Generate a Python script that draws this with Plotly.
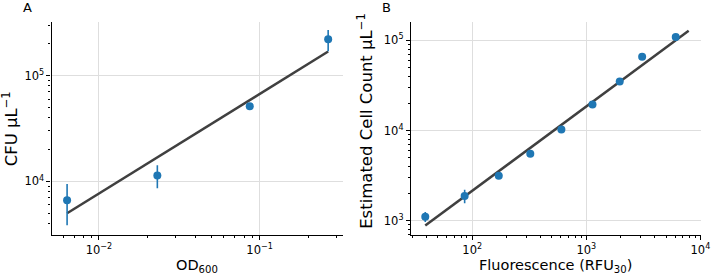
import plotly.graph_objects as go

# Panel A data
od600 = [0.00634, 0.0231, 0.0868, 0.267]
cfu = [6650, 11400, 51400, 220000]
cfu_err = [2800, 2800, 2500, 50000]
fit_od = [0.00634, 0.267]
fit_cfu = [5010, 169000]

# Panel B data
rfu = [38.8, 85.9, 171, 323, 605, 1133, 1963, 3086, 6080]
count = [1108, 1880, 3150, 5530, 10260, 19400, 34900, 65800, 108800]
count_err = [140, 320, 150, 250, 400, 700, 1200, 2000, 3000]
fit_rfu = [38.8, 7890]
fit_count = [881, 127800]

W, H = 720, 277
BLUE = "#1f77b4"
LINE = "#404040"
FONT = "DejaVu Sans"

def px(x):
    return x / W

def py(y):
    return 1 - y / H

def sup_label(e):
    s = str(e).replace("-", "\u2212")
    return f"10<sup>{s}</sup>"

def minor_vals(lo, hi):
    out = []
    for d in range(lo, hi + 1):
        for m in range(2, 10):
            out.append(m * 10 ** d)
    return out

fig = go.Figure()

fig.add_trace(go.Scatter(x=fit_od, y=fit_cfu, mode="lines",
                         line=dict(color=LINE, width=2.5), xaxis="x", yaxis="y", showlegend=False))
fig.add_trace(go.Scatter(x=od600, y=cfu, mode="markers",
                         marker=dict(color=BLUE, size=8),
                         error_y=dict(type="data", array=cfu_err, color=BLUE, thickness=1.6, width=0),
                         xaxis="x", yaxis="y", showlegend=False))

fig.add_trace(go.Scatter(x=fit_rfu, y=fit_count, mode="lines",
                         line=dict(color=LINE, width=2.5), xaxis="x2", yaxis="y2", showlegend=False))
fig.add_trace(go.Scatter(x=rfu, y=count, mode="markers",
                         marker=dict(color=BLUE, size=8),
                         error_y=dict(type="data", array=count_err, color=BLUE, thickness=1.6, width=0),
                         xaxis="x2", yaxis="y2", showlegend=False))

def axis(domain, rng, majors, minor_lo, minor_hi, anchor):
    return dict(
        type="log", domain=domain, range=rng, anchor=anchor,
        tickmode="array", tickvals=[10 ** e for e in majors],
        ticktext=[sup_label(e) for e in majors],
        ticks="outside", ticklen=4, tickwidth=1, tickcolor="black",
        ticklabeloverflow="allow",
        showline=True, linecolor="black", linewidth=1.2,
        showgrid=True, gridcolor="#dedede", gridwidth=1,
        zeroline=False, mirror=False,
        tickfont=dict(family=FONT, size=11.5, color="black"),
        minor=dict(tickmode="array", tickvals=minor_vals(minor_lo, minor_hi),
                   ticks="outside", ticklen=2, tickwidth=0.8, tickcolor="black", showgrid=False),
    )

fig.update_layout(
    width=W, height=H,
    margin=dict(l=0, r=0, t=0, b=0),
    paper_bgcolor="white", plot_bgcolor="white",
    font=dict(family=FONT, color="black"),
    xaxis=axis([px(52.3), px(347.7)], [-2.2945, -0.482], [-2, -1], -3, 0, "y"),
    yaxis=axis([py(235), py(21.7)], [3.494, 5.509], [4, 5], 3, 5, "x"),
    xaxis2=axis([px(416.7), px(710.5)], [1.463, 4.002], [2, 3, 4], 1, 3, "y2"),
    yaxis2=axis([py(235), py(21.7)], [2.841, 5.206], [3, 4, 5], 2, 5, "x2"),
)

ann = [
    dict(text="A", x=px(28), y=py(7), size=13, ya="middle"),
    dict(text="B", x=px(392), y=py(7), size=13, ya="middle"),
    dict(text="OD<sub>600</sub>", x=px(200), y=py(277), size=14.5, ya="bottom"),
    dict(text="Fluorescence (RFU<sub>30</sub>)", x=px(563), y=py(277), size=14.5, ya="bottom"),
    dict(text="CFU \u00b5L<sup>\u22121</sup>", x=px(10.5), y=py(129), size=16.5, angle=-90, ya="middle"),
    dict(text="Estimated Cell Count \u00b5L<sup>\u22121</sup>", x=px(370), y=py(121), size=16.5, angle=-90, ya="middle"),
]
for a in ann:
    fig.add_annotation(text=a["text"], x=a["x"], y=a["y"], xref="paper", yref="paper",
                       xanchor="center", yanchor=a["ya"], showarrow=False,
                       textangle=a.get("angle", 0),
                       font=dict(family=FONT, size=a["size"], color="black"))

fig.write_html("out.html", config={"displayModeBar": False},
               post_script="document.body.style.margin='0';document.body.style.overflow='hidden';")
